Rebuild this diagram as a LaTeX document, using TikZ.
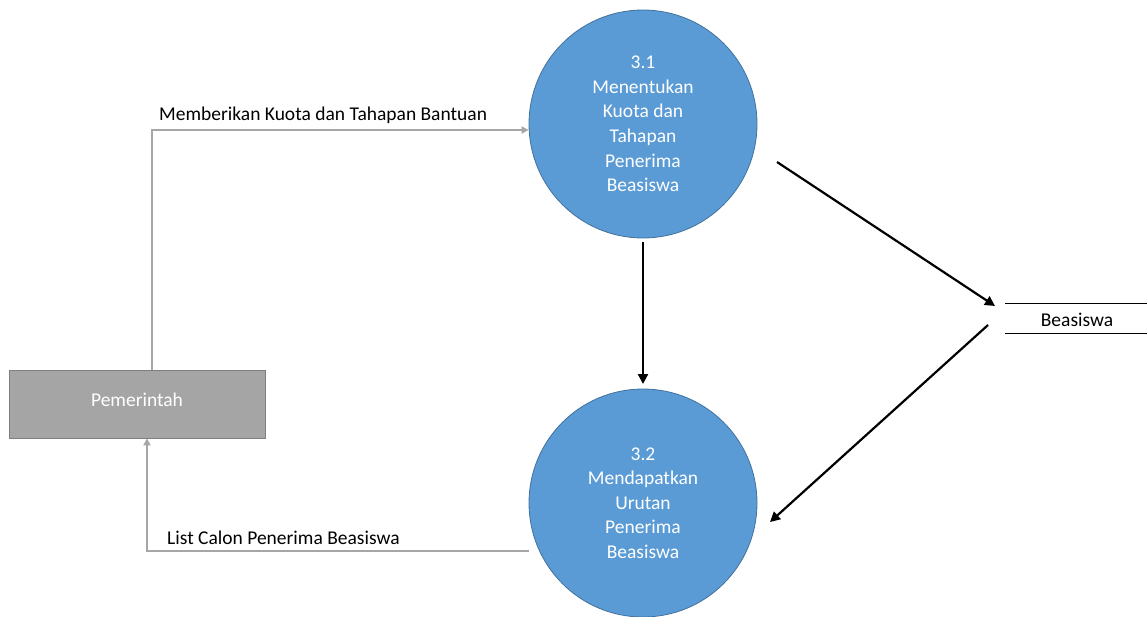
\documentclass[tikz,border=0pt]{standalone}
\usepackage{fontspec}
\setmainfont{Carlito}
\usetikzlibrary{arrows.meta}
\definecolor{procfill}{HTML}{5B9BD5}
\definecolor{procdraw}{HTML}{41719C}
\definecolor{entfill}{HTML}{A5A5A5}
\definecolor{entdraw}{HTML}{7F7F7F}
\definecolor{flowgray}{HTML}{A6A6A6}
\tikzset{
  proc/.style={circle, fill=procfill, draw=procdraw, line width=0.8pt, minimum size=228pt, inner sep=0pt,
     text=white, align=center, font=\fontsize{19.5}{24.6}\selectfont},
  ent/.style={rectangle, fill=entfill, draw=entdraw, line width=0.8pt, minimum width=256pt, minimum height=68pt,
     text=white, font=\fontsize{19.5}{22}\selectfont},
  grayflow/.style={draw=flowgray, line width=1.8pt, -{Triangle[length=7pt,width=7pt]}},
  blackflow/.style={draw=black, line width=2.2pt, -{Triangle[length=10pt,width=10pt]}},
  lbl/.style={font=\fontsize{19.5}{22}\selectfont, text=black, inner sep=0pt},
}
\begin{document}
\begin{tikzpicture}[x=1pt,y=-1pt]
\useasboundingbox (0,0) rectangle (1147,616);
\node[proc] (p1) at (643,124) {3.1\\Menentukan\\Kuota dan\\Tahapan\\Penerima\\Beasiswa};
\node[proc] (p2) at (643,503) {3.2\\Mendapatkan\\Urutan\\Penerima\\Beasiswa};
\node[ent] (e1) at (137,404) {\raisebox{9pt}{Pemerintah}};
\coordinate (c1) at (152,130);
\coordinate (c2) at (147,551);
\draw[grayflow] (e1.north -| c1) -- (c1) -- (p1.west |- c1);
\draw[grayflow] (p2.west |- c2) -- (c2) -- (e1.south -| c2);
\node[lbl, anchor=south west] (l1) at (159,124) {Memberikan Kuota dan Tahapan Bantuan};
\node[lbl, anchor=south west] (l2) at (167,545) {List Calon Penerima Beasiswa};
% data store
\coordinate (s1) at (1005,303);
\coordinate (s2) at (1147,303);
\coordinate (s3) at (1005,333);
\coordinate (s4) at (1147,333);
\draw[line width=1pt] (s1) -- (s2);
\draw[line width=1pt] (s3) -- (s4);
\node[lbl] (ds) at (1077,320) {Beasiswa};
\coordinate (d1) at (777,162);
\coordinate (d2) at (995,306);
\coordinate (d3) at (988,325);
\coordinate (d4) at (770,522);
\draw[blackflow] (p1.south) ++(0,4) coordinate (v1) -- (643,384) coordinate (v2);
\draw[blackflow] (d1) -- (d2);
\draw[blackflow] (d3) -- (d4);
\end{tikzpicture}
\end{document}
